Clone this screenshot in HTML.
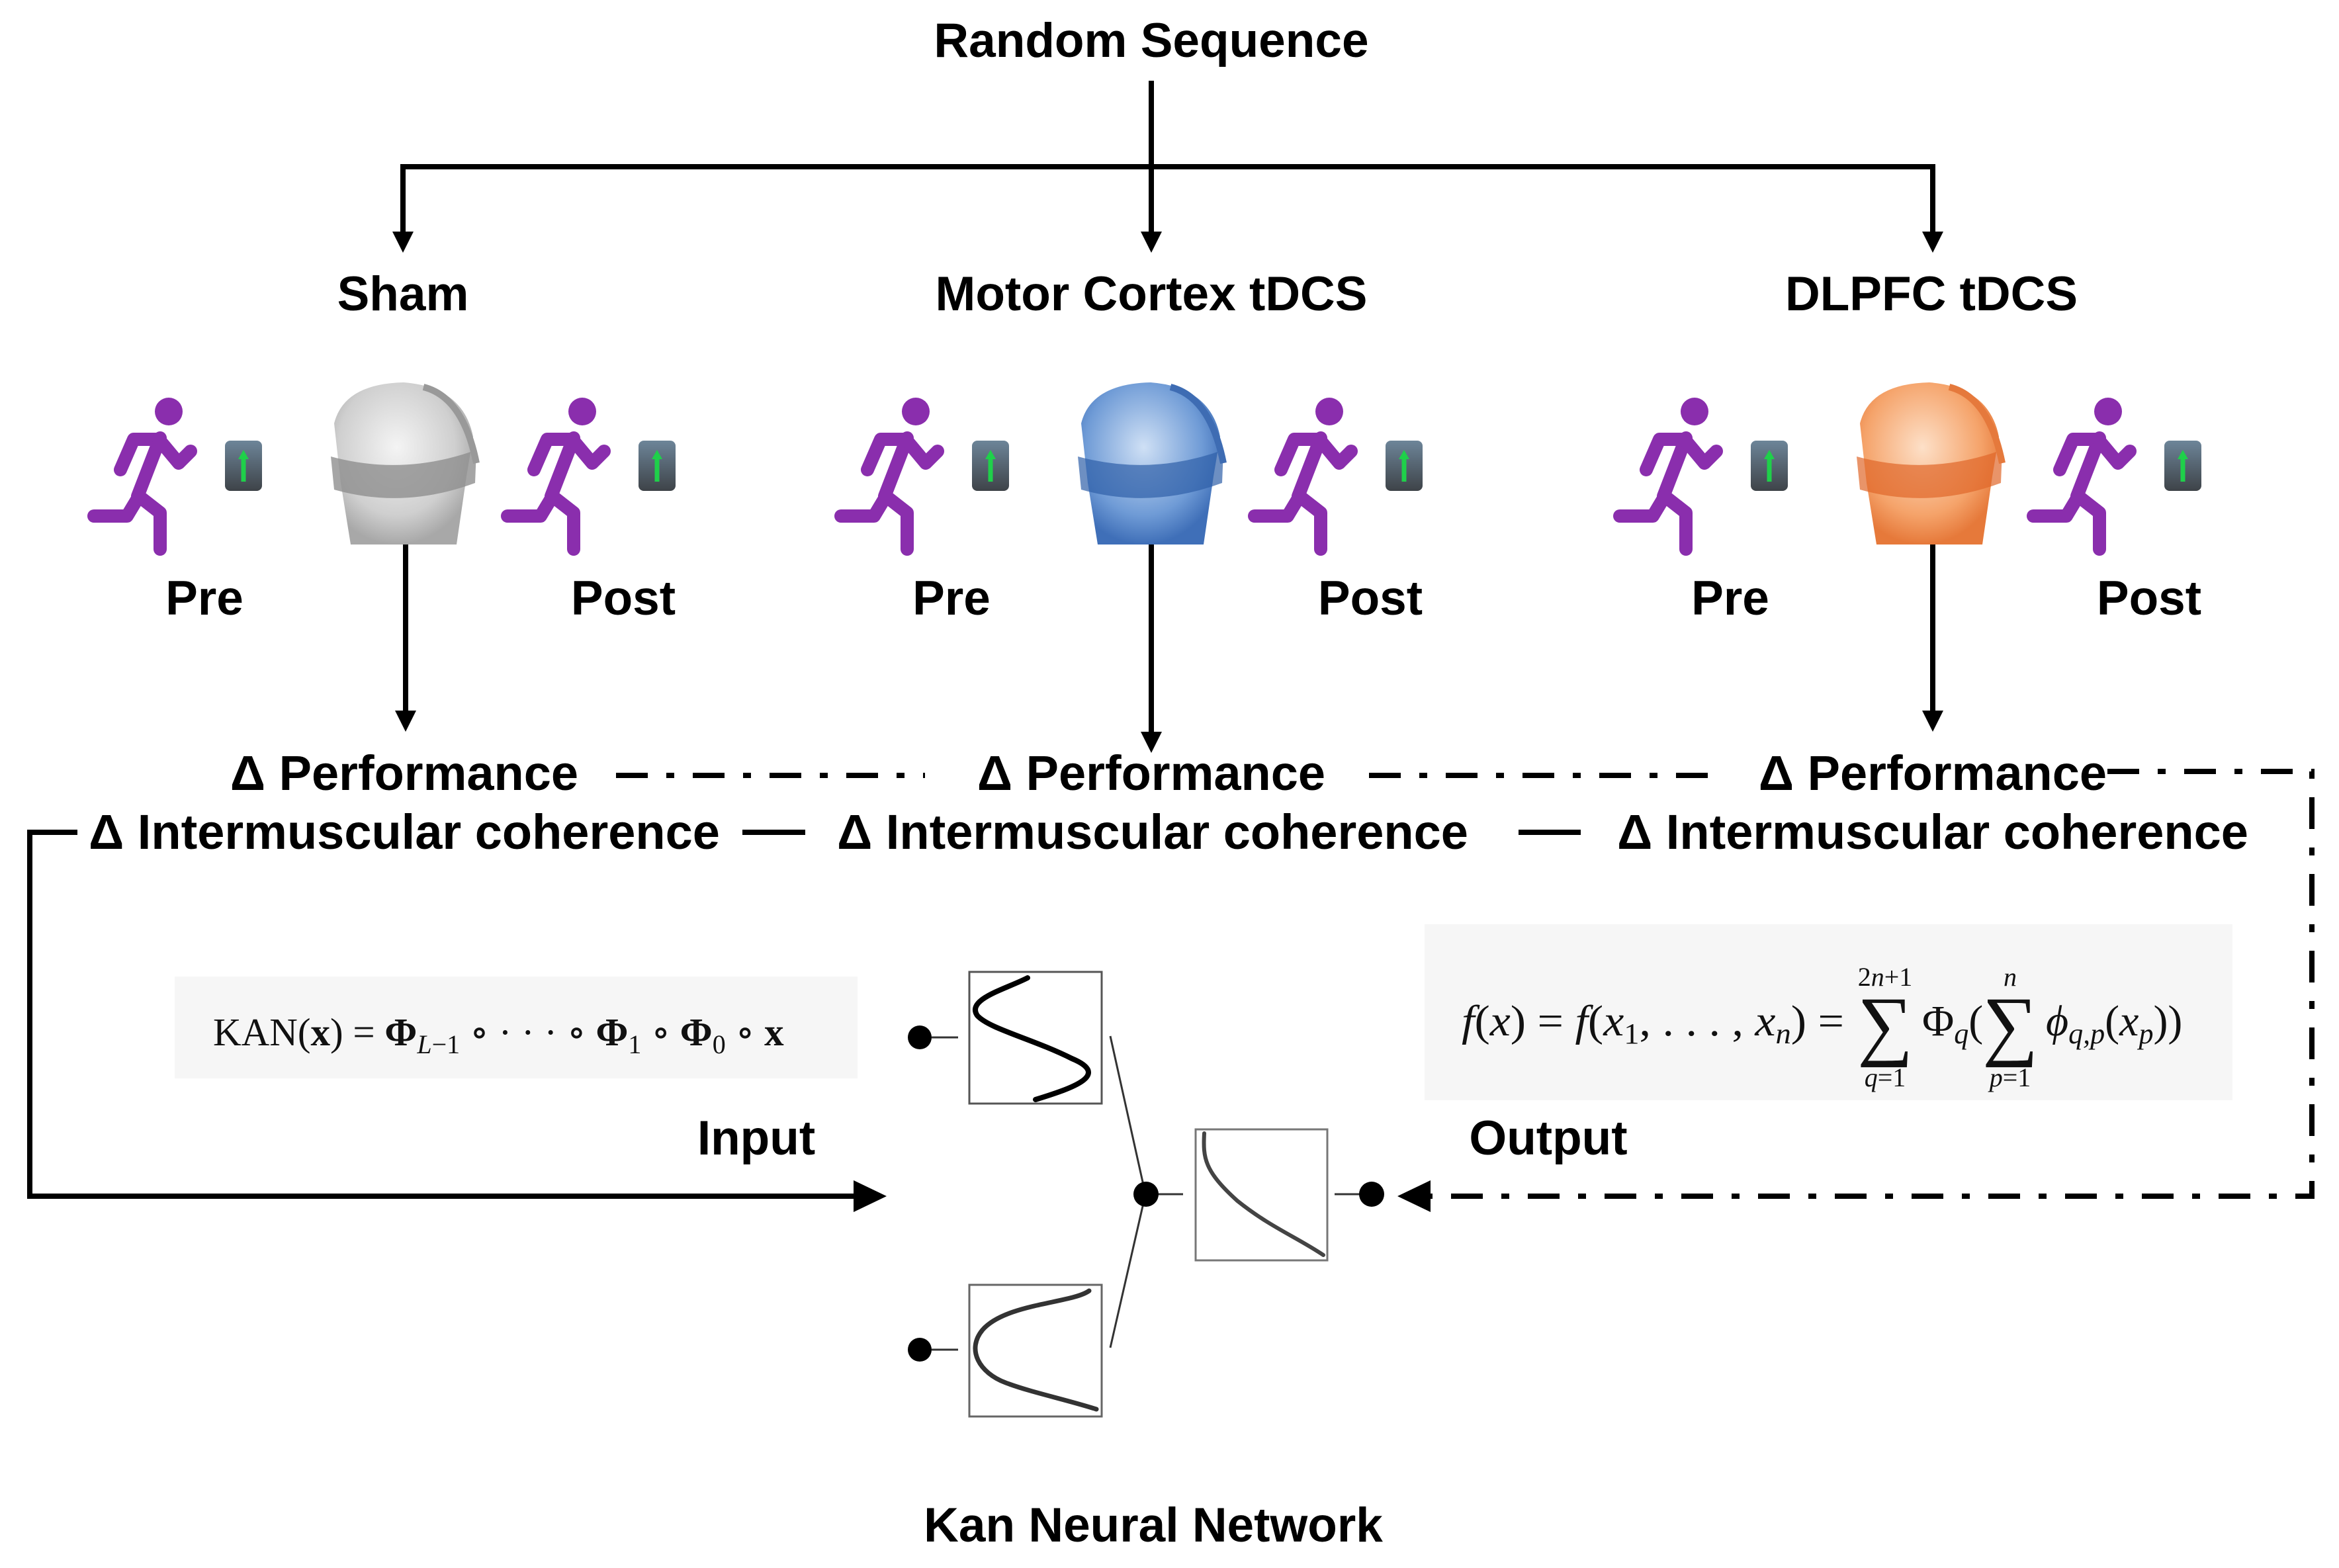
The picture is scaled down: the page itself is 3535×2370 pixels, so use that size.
<!DOCTYPE html>
<html><head><meta charset="utf-8"><style>
html,body{margin:0;padding:0;background:#fff;}
svg{display:block;}
.b{font-family:"Liberation Sans",sans-serif;font-weight:bold;fill:#000;}
.m{font-family:"Liberation Serif","DejaVu Serif",serif;fill:#111;}
</style></head><body>
<svg width="3535" height="2370" viewBox="0 0 3535 2370" xmlns="http://www.w3.org/2000/svg">
<defs>
  <radialGradient id="hg" cx="0.45" cy="0.4" r="0.6"><stop offset="0" stop-color="#f4f4f4"/><stop offset="0.7" stop-color="#cfcfcf"/><stop offset="1" stop-color="#a8a8a8"/></radialGradient>
  <radialGradient id="hb" cx="0.45" cy="0.4" r="0.6"><stop offset="0" stop-color="#cfe0f5"/><stop offset="0.7" stop-color="#6f9bd6"/><stop offset="1" stop-color="#3f6fb8"/></radialGradient>
  <radialGradient id="ho" cx="0.45" cy="0.4" r="0.6"><stop offset="0" stop-color="#fde0c8"/><stop offset="0.7" stop-color="#f5a36a"/><stop offset="1" stop-color="#e6793a"/></radialGradient>
  <linearGradient id="ph" x1="0" y1="0" x2="0" y2="1"><stop offset="0" stop-color="#6d8599"/><stop offset="1" stop-color="#3e4348"/></linearGradient>
  <g id="runner" fill="none" stroke="#8a2ead" stroke-width="20" stroke-linecap="round" stroke-linejoin="round">
    <circle cx="125" cy="22" r="21" fill="#8a2ead" stroke="none"/>
    <path d="M112 62 L78 150"/>
    <path d="M110 64 L72 64 L52 110"/>
    <path d="M110 64 L140 100 L158 82"/>
    <path d="M80 150 L62 180 L12 180"/>
    <path d="M80 150 L112 175 L112 230"/>
  </g>
  <g id="phone">
    <rect x="0" y="0" width="56" height="76" rx="8" fill="url(#ph)"/>
    <line x1="28" y1="22" x2="28" y2="62" stroke="#1fd04a" stroke-width="7"/>
    <path d="M20 28 L28 14 L36 28 Z" fill="#1fd04a"/>
  </g>
</defs>

<text class="b" x="1740" y="86" font-size="73" text-anchor="middle">Random Sequence</text>
<g stroke="#000" stroke-width="8" fill="none">
  <line x1="1740" y1="122" x2="1740" y2="355"/>
  <polyline points="609,355 609,252 2921,252 2921,355"/>
</g>
<g fill="#000">
  <path d="M593,350 L625,350 L609,382 Z"/>
  <path d="M1724,350 L1756,350 L1740,382 Z"/>
  <path d="M2905,350 L2937,350 L2921,382 Z"/>
</g>
<text class="b" x="609" y="469" font-size="73" text-anchor="middle">Sham</text>
<text class="b" x="1740" y="469" font-size="73" text-anchor="middle">Motor Cortex tDCS</text>
<text class="b" x="2919" y="469" font-size="73" text-anchor="middle">DLPFC tDCS</text>

<g id="grp">
  <use href="#runner" x="130" y="600"/>
  <use href="#phone" x="340" y="666"/>
  <use href="#runner" x="755" y="600"/>
  <use href="#phone" x="965" y="666"/>
</g>
<use href="#grp" x="1129"/>
<use href="#grp" x="2306"/>

<g>
  <path d="M505,640 Q520,580 610,578 Q700,585 715,660 L705,720 L690,823 L530,823 L515,730 Z" fill="url(#hg)"/>
  <path d="M500,690 Q610,720 720,680 L718,730 Q610,770 505,740 Z" fill="#8e8e8e" opacity="0.8"/>
  <path d="M640,585 Q700,600 720,700" stroke="#999" stroke-width="10" fill="none"/>
</g>
<g transform="translate(1129,0)">
  <path d="M505,640 Q520,580 610,578 Q700,585 715,660 L705,720 L690,823 L530,823 L515,730 Z" fill="url(#hb)"/>
  <path d="M500,690 Q610,720 720,680 L718,730 Q610,770 505,740 Z" fill="#2f5fa8" opacity="0.7"/>
  <path d="M640,585 Q700,600 720,700" stroke="#3e6cb3" stroke-width="10" fill="none"/>
</g>
<g transform="translate(2306,0)">
  <path d="M505,640 Q520,580 610,578 Q700,585 715,660 L705,720 L690,823 L530,823 L515,730 Z" fill="url(#ho)"/>
  <path d="M500,690 Q610,720 720,680 L718,730 Q610,770 505,740 Z" fill="#e0662a" opacity="0.7"/>
  <path d="M640,585 Q700,600 720,700" stroke="#e5793c" stroke-width="10" fill="none"/>
</g>

<g class="b" font-size="73" text-anchor="middle">
  <text x="309" y="929">Pre</text><text x="942" y="929">Post</text>
  <text x="1438" y="929">Pre</text><text x="2071" y="929">Post</text>
  <text x="2615" y="929">Pre</text><text x="3248" y="929">Post</text>
</g>

<g stroke="#000" stroke-width="8">
  <line x1="613" y1="823" x2="613" y2="1080"/>
  <line x1="1740" y1="823" x2="1740" y2="1112"/>
  <line x1="2921" y1="823" x2="2921" y2="1080"/>
</g>
<g fill="#000">
  <path d="M597,1074 L629,1074 L613,1106 Z"/>
  <path d="M1724,1106 L1756,1106 L1740,1138 Z"/>
  <path d="M2905,1074 L2937,1074 L2921,1106 Z"/>
</g>

<g class="b" font-size="74" text-anchor="middle">
  <text x="611" y="1194">Δ Performance</text>
  <text x="1740" y="1194">Δ Performance</text>
  <text x="2921" y="1194">Δ Performance</text>
  <text x="611" y="1283">Δ Intermuscular coherence</text>
  <text x="1742" y="1283">Δ Intermuscular coherence</text>
  <text x="2921" y="1283">Δ Intermuscular coherence</text>
</g>

<g stroke="#000" stroke-width="8" fill="none" stroke-dasharray="48,28,12,28">
  <line x1="931" y1="1172" x2="1398" y2="1172"/>
  <line x1="2069" y1="1172" x2="2592" y2="1172"/>
  <polyline points="3185,1166 3494,1166 3494,1808 2140,1808"/>
</g>
<path d="M2112,1808 L2162,1784 L2162,1832 Z" fill="#000"/>
<g stroke="#000" stroke-width="8">
  <line x1="1122" y1="1258" x2="1217" y2="1258"/>
  <line x1="2295" y1="1258" x2="2389" y2="1258"/>
</g>
<polyline points="117,1258 45,1258 45,1808 1300,1808" stroke="#000" stroke-width="8" fill="none"/>
<path d="M1340,1808 L1290,1784 L1290,1832 Z" fill="#000"/>

<rect x="264" y="1476" width="1032" height="154" fill="#f6f6f6"/>
<text class="m" x="322" y="1580" font-size="59">KAN(<tspan font-weight="bold">x</tspan>) = <tspan font-weight="bold">Φ</tspan><tspan font-size="40" dy="12" font-style="italic">L</tspan><tspan font-size="40">−1</tspan><tspan dy="-12"> ∘ · · · ∘ </tspan><tspan font-weight="bold">Φ</tspan><tspan font-size="40" dy="12">1</tspan><tspan dy="-12"> ∘ </tspan><tspan font-weight="bold">Φ</tspan><tspan font-size="40" dy="12">0</tspan><tspan dy="-12"> ∘ </tspan><tspan font-weight="bold">x</tspan></text>

<rect x="2153" y="1397" width="1221" height="266" fill="#f6f6f6"/>
<g class="m">
  <text x="2209" y="1565" font-size="66" textLength="578" lengthAdjust="spacingAndGlyphs"><tspan font-style="italic">f</tspan>(<tspan font-style="italic">x</tspan>) = <tspan font-style="italic">f</tspan>(<tspan font-style="italic">x</tspan><tspan font-size="44" dy="12">1</tspan><tspan dy="-12">, . . . , </tspan><tspan font-style="italic">x</tspan><tspan font-size="44" dy="12" font-style="italic">n</tspan><tspan dy="-12">) =</tspan></text>
  <text x="2849" y="1588" font-size="118" text-anchor="middle">∑</text>
  <text x="2849" y="1490" font-size="40" text-anchor="middle">2<tspan font-style="italic">n</tspan>+1</text>
  <text x="2849" y="1642" font-size="40" text-anchor="middle"><tspan font-style="italic">q</tspan>=1</text>
  <text x="2905" y="1565" font-size="66">Φ<tspan font-size="44" dy="12" font-style="italic">q</tspan><tspan dy="-12">(</tspan></text>
  <text x="3038" y="1588" font-size="118" text-anchor="middle">∑</text>
  <text x="3038" y="1490" font-size="40" text-anchor="middle" font-style="italic">n</text>
  <text x="3038" y="1642" font-size="40" text-anchor="middle"><tspan font-style="italic">p</tspan>=1</text>
  <text x="3092" y="1565" font-size="66"><tspan font-style="italic">ϕ</tspan><tspan font-size="44" dy="12" font-style="italic">q,p</tspan><tspan dy="-12">(</tspan><tspan font-style="italic">x</tspan><tspan font-size="44" dy="12" font-style="italic">p</tspan><tspan dy="-12">))</tspan></text>
</g>

<text class="b" x="1143" y="1745" font-size="73" text-anchor="middle">Input</text>
<text class="b" x="2340" y="1745" font-size="73" text-anchor="middle">Output</text>

<g fill="none">
  <rect x="1465" y="1469" width="200" height="199" stroke="#555" stroke-width="3"/>
  <rect x="1465" y="1942" width="200" height="199" stroke="#666" stroke-width="3"/>
  <rect x="1807" y="1707" width="199" height="198" stroke="#777" stroke-width="3"/>
  <path d="M1553,1478 C1520,1495 1460,1510 1477,1535 C1495,1555 1560,1570 1620,1600 C1680,1625 1620,1645 1565,1662" stroke="#000" stroke-width="8" stroke-linecap="round"/>
  <path d="M1646,1951 C1620,1970 1520,1970 1485,2010 C1460,2040 1480,2075 1520,2090 C1560,2105 1610,2115 1657,2130" stroke="#333" stroke-width="7" stroke-linecap="round"/>
  <path d="M1820,1713 C1818,1750 1820,1770 1870,1815 C1920,1855 1960,1870 2000,1897" stroke="#444" stroke-width="6" stroke-linecap="round"/>
  <g stroke="#333" stroke-width="3">
    <line x1="1408" y1="1568" x2="1448" y2="1568"/>
    <line x1="1408" y1="2040" x2="1448" y2="2040"/>
    <line x1="1678" y1="1566" x2="1730" y2="1800"/>
    <line x1="1730" y1="1810" x2="1678" y2="2037"/>
    <line x1="1750" y1="1805" x2="1788" y2="1805"/>
    <line x1="2017" y1="1805" x2="2055" y2="1805"/>
  </g>
</g>
<g fill="#000">
  <circle cx="1390" cy="1568" r="18"/>
  <circle cx="1390" cy="2040" r="18"/>
  <circle cx="1732" cy="1805" r="19"/>
  <circle cx="2073" cy="1805" r="19"/>
</g>

<text class="b" x="1743" y="2330" font-size="73" text-anchor="middle">Kan Neural Network</text>
</svg>
</body></html>
